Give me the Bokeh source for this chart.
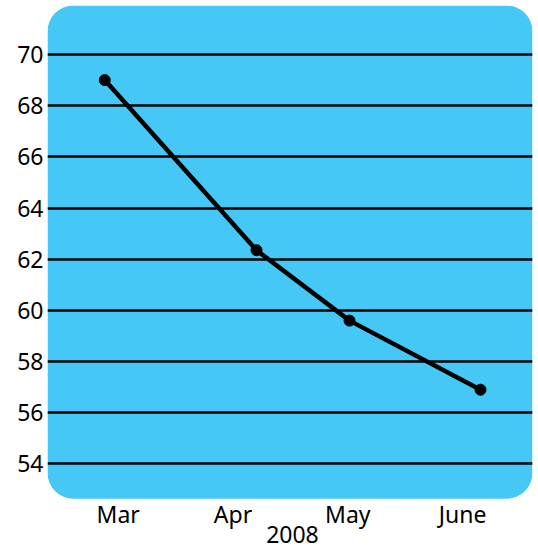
from bokeh.plotting import figure
from bokeh.models import BoxAnnotation, FixedTicker, Range1d, ColumnDataSource
from bokeh.core.properties import value
from bokeh.embed import file_html
from bokeh.resources import INLINE

# Monthly readings for spring 2008
months = ["Mar", "Apr", "May", "June"]
month_ticks = [1, 2, 3, 4]
sample_pos = [0.883, 2.205, 3.015, 4.156]
values = [69.0, 62.35, 59.6, 56.9]
y_ticks = [54, 56, 58, 60, 62, 64, 66, 68, 70]
year_label = "2008"
year_pos = 2.518

FONT = "Noto Sans"
BLUE = "#45C8F5"

# the plotting frame reaches the bottom of the canvas so that the
# month names and the year can be set as text beneath the panel
y_min, y_max = 50.695, 71.914
panel_bottom = 52.637
month_baseline = 52.04
year_baseline = 51.26

p = figure(
    width=538, height=548,
    min_border_left=47, min_border_right=6, min_border_top=5, min_border_bottom=0,
    x_range=Range1d(0.3842, 4.6089), y_range=Range1d(y_min, y_max),
    output_backend="svg", toolbar_location=None,
    background_fill_color=None, border_fill_color="white",
)
p.outline_line_color = None
p.xaxis.visible = False

# rounded blue panel behind the grid
panel = BoxAnnotation(bottom=panel_bottom, fill_color=BLUE, fill_alpha=1.0,
                      line_color=None, border_radius=26, level="image")
p.add_layout(panel)

p.xgrid.visible = False
p.ygrid.ticker = FixedTicker(ticks=y_ticks)
p.ygrid.grid_line_color = "black"
p.ygrid.grid_line_width = 2.5

# value axis on the left
ax = p.yaxis[0]
ax.ticker = FixedTicker(ticks=y_ticks)
ax.axis_line_color = None
ax.major_tick_line_color = None
ax.minor_tick_line_color = None
ax.major_tick_out = 0
ax.major_tick_in = 0
ax.minor_tick_out = 0
ax.minor_tick_in = 0
ax.major_label_standoff = 4
ax.major_label_text_font = FONT
ax.major_label_text_font_size = "23px"
ax.major_label_text_color = "black"

# month names and year below the panel
months_src = ColumnDataSource(dict(x=month_ticks, y=[month_baseline] * len(months), t=months))
p.text("x", "y", text="t", source=months_src, text_font=value(FONT),
       text_font_size="23px", text_color="black",
       text_align="center", text_baseline="alphabetic")
p.text([year_pos], [year_baseline], text=[year_label], text_font=value(FONT),
       text_font_size="23px", text_color="black",
       text_align="center", text_baseline="alphabetic")

p.line(sample_pos, values, line_color="black", line_width=4.5)
p.scatter(sample_pos, values, size=11, fill_color="black", line_color="black")

open("out.html", "w").write(file_html(p, INLINE))
